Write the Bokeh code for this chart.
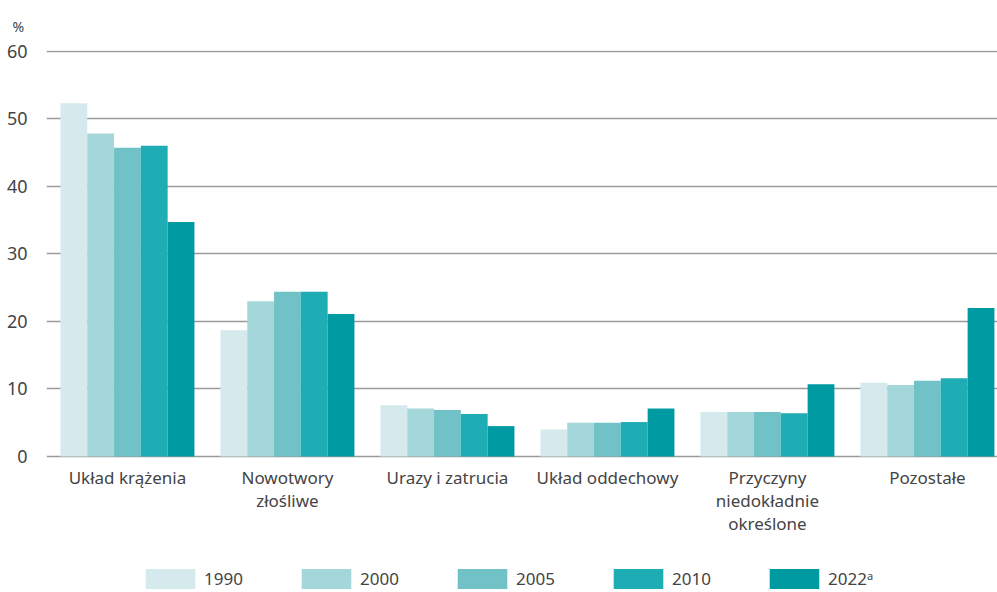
from bokeh.plotting import figure
from bokeh.models import ColumnDataSource, Range1d, FixedTicker
from bokeh.core.properties import value
from bokeh.embed import file_html
from bokeh.resources import INLINE

categories = ["Układ krążenia", "Nowotwory\nzłośliwe", "Urazy i zatrucia",
              "Układ oddechowy", "Przyczyny\nniedokładnie\nokreślone", "Pozostałe"]
years = ["1990", "2000", "2005", "2010", "2022ᵃ"]
v1990 = [52.3, 18.7, 7.6, 4.0, 6.6, 10.9]
v2000 = [47.8, 23.0, 7.1, 5.0, 6.6, 10.6]
v2005 = [45.7, 24.4, 6.9, 5.0, 6.6, 11.2]
v2010 = [46.0, 24.4, 6.3, 5.1, 6.4, 11.6]
v2022 = [34.7, 21.1, 4.5, 7.1, 10.7, 22.0]
series = [v1990, v2000, v2005, v2010, v2022]
colors = ["#d4eaec", "#a3d7da", "#71c2c7", "#1eadb4", "#009aa3"]
y_ticks = [0, 10, 20, 30, 40, 50, 60]

FONT = "Noto Sans"
TXT = "#444444"

p = figure(width=997, height=592, output_backend="svg", toolbar_location=None,
           x_range=Range1d(-0.506, 5.438), y_range=Range1d(-20.13, 60.1),
           min_border_left=46, min_border_right=0, min_border_top=48,
           min_border_bottom=0, title="%")
p.outline_line_color = None
p.background_fill_color = "white"

p.title.align = "left"
p.title.offset = -34
p.title.standoff = 29
p.title.text_font = FONT
p.title.text_font_size = "14px"
p.title.text_font_style = "normal"
p.title.text_color = TXT

bw = 0.1675
for k, (yr, vals, c) in enumerate(zip(years, series, colors)):
    xs = [i + (k - 2) * bw for i in range(len(categories))]
    src = ColumnDataSource(dict(x=xs, top=vals))
    p.vbar(x="x", top="top", width=bw, source=src, fill_color=c,
           line_color=None, legend_label=yr)

p.xgrid.grid_line_color = None
p.ygrid.ticker = FixedTicker(ticks=y_ticks)
p.ygrid.grid_line_color = "#9a9a9a"
p.ygrid.grid_line_width = 1.5
p.ygrid.level = "underlay"

ya = p.yaxis[0]
ya.ticker = FixedTicker(ticks=y_ticks)
ya.axis_line_color = None
ya.major_tick_line_color = None
ya.minor_tick_line_color = None
ya.major_label_standoff = 13
ya.major_label_text_font = FONT
ya.major_label_text_font_size = "18px"
ya.major_label_text_color = TXT

p.xaxis.visible = False

lab = ColumnDataSource(dict(x=list(range(len(categories))),
                            y=[0] * len(categories), text=categories))
p.text(x="x", y="y", text="text", source=lab, y_offset=9,
       text_align="center", text_baseline="top",
       text_font=value(FONT), text_font_size="17px", text_color=TXT,
       text_line_height=1.0)

leg = p.legend[0]
leg.orientation = "horizontal"
leg.location = (93, 1)
leg.glyph_width = 62
leg.glyph_height = 25
leg.label_standoff = 3
leg.label_width = 80
leg.spacing = 11
leg.padding = 0
leg.margin = 0
leg.border_line_color = None
leg.background_fill_alpha = 0
leg.label_text_font = FONT
leg.label_text_font_size = "17px"
leg.label_text_color = TXT

open("out.html", "w").write(file_html(p, INLINE))
